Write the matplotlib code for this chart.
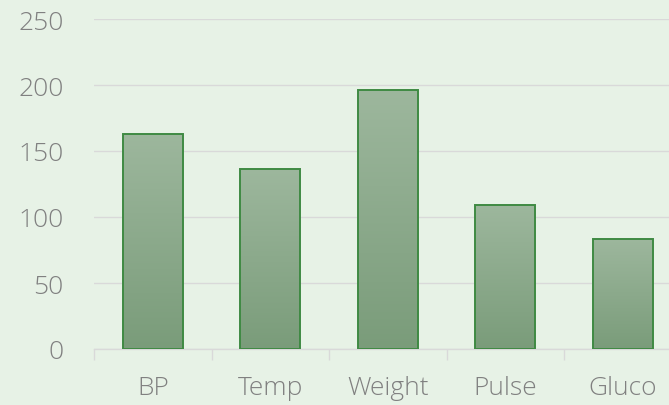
import numpy as np
import matplotlib.pyplot as plt

# Chart data
categories = ["BP", "Temp", "Weight", "Pulse", "Gluco"]
values = [163, 136, 196, 109, 83]
y_ticks = [0, 50, 100, 150, 200, 250]

bg = "#e7f2e6"
text_gray = "#808080"
grid_gray = "#d9d9d9"

plt.rcParams['font.family'] = ['Open Sans', 'DejaVu Sans']
plt.rcParams['font.weight'] = 'light'

fig = plt.figure(figsize=(6.69, 4.06), dpi=100, facecolor=bg)
# axes deliberately runs past the right edge (last category is cut off)
ax = fig.add_axes([94 / 669, 56 / 406, 587.5 / 669, 330 / 406])
ax.set_facecolor(bg)

x = np.arange(len(categories))
bars = ax.bar(x, values, width=0.51, facecolor="none",
              edgecolor="#3f8a43", linewidth=1.4, zorder=3)

# vertical gradient fill, lighter at top
grad = np.linspace(0, 1, 256).reshape(-1, 1)
cmap = plt.matplotlib.colors.LinearSegmentedColormap.from_list(
    "g", ["#7a9c7a", "#9db79d"])
for b in bars:
    x0, w, h = b.get_x(), b.get_width(), b.get_height()
    im = ax.imshow(grad, cmap=cmap, origin="lower", aspect="auto",
                   extent=[x0, x0 + w, 0, h], zorder=2)
    im.set_clip_path(b)

ax.set_xlim(-0.5, len(categories) - 0.5)
ax.set_ylim(0, 250)
ax.set_yticks(y_ticks)
ax.set_yticklabels([str(v) for v in y_ticks])
ax.set_xticks(x)
ax.set_xticklabels(categories)
ax.set_xticks(np.arange(-0.5, len(categories), 1.0), minor=True)

ax.grid(axis="y", color=grid_gray, linewidth=1, zorder=0)
for s in ["top", "right", "left"]:
    ax.spines[s].set_visible(False)
ax.spines["bottom"].set_color(grid_gray)
ax.spines["bottom"].set_linewidth(1)

ax.tick_params(axis="y", length=0, pad=22, labelsize=19, labelcolor=text_gray)
ax.tick_params(axis="x", which="major", length=0, pad=19, labelsize=19,
               labelcolor=text_gray)
ax.tick_params(axis="x", which="minor", length=8, color=grid_gray, width=1)

fig.savefig("out.png", dpi=100, facecolor=bg)
